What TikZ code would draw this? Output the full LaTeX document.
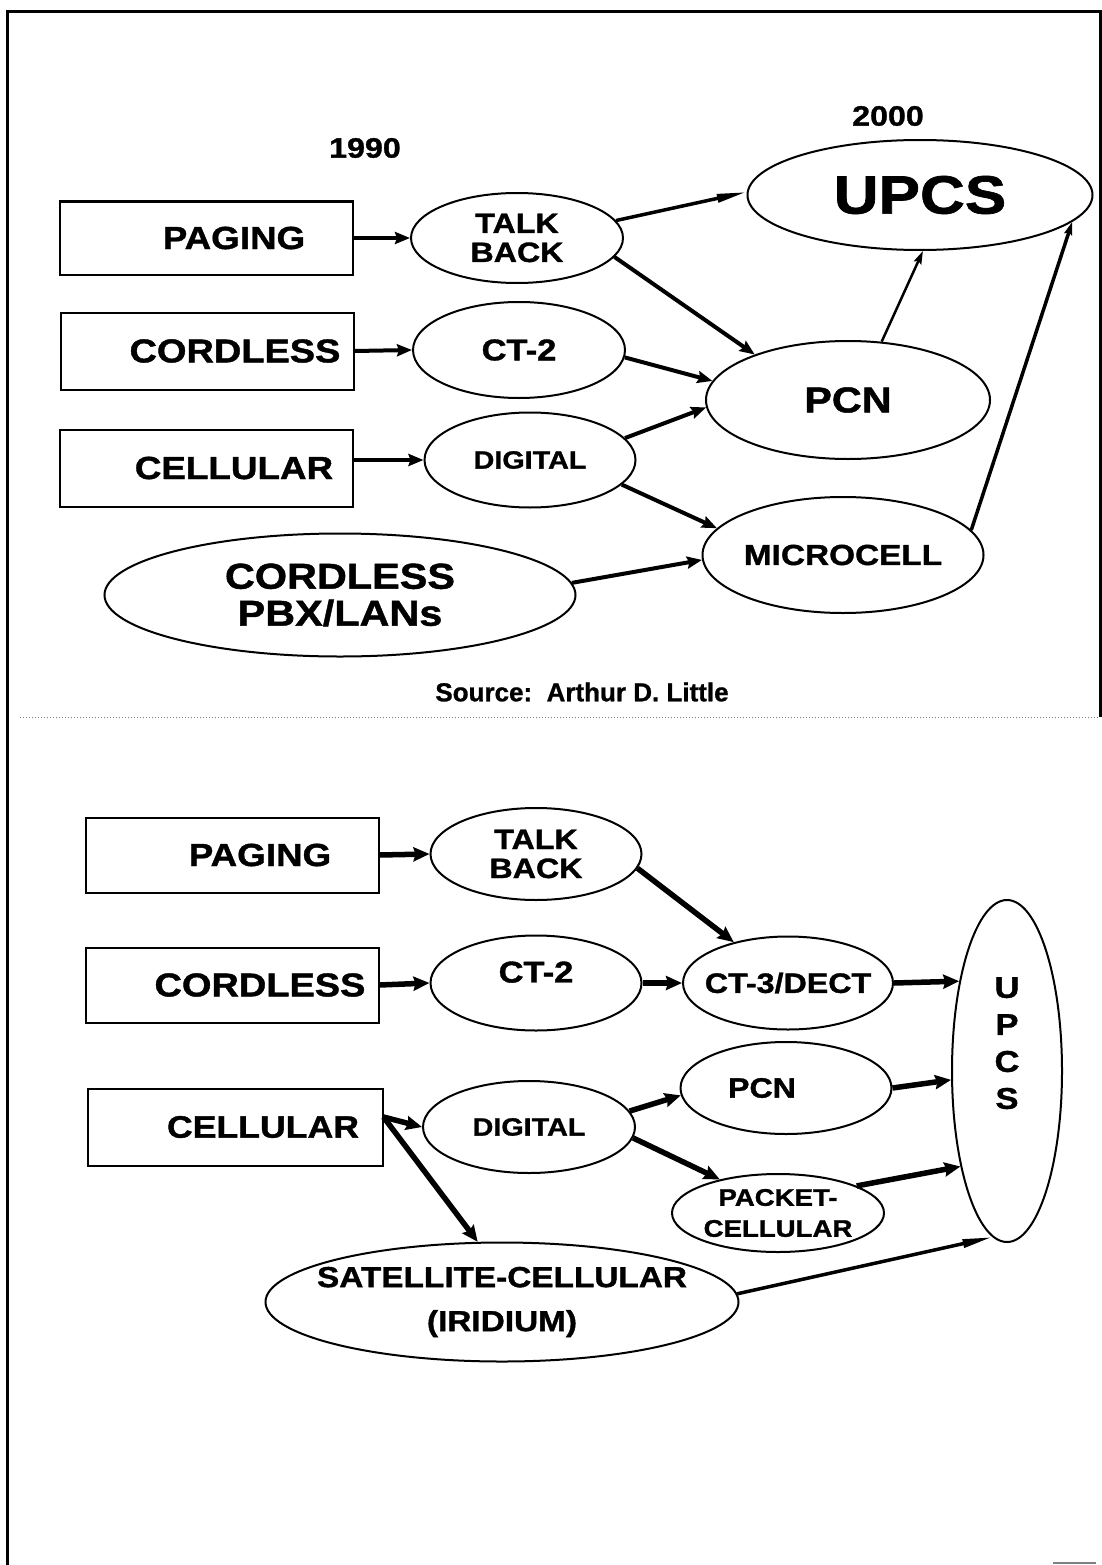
\documentclass[tikz,border=0pt]{standalone}
\usepackage{fontspec}
\setmainfont{Liberation Sans}[FakeStretch=1.15, BoldFeatures={FakeBold=1.2}]
\newfontfamily\srcfont{Liberation Sans}[BoldFeatures={FakeBold=1}]
\usetikzlibrary{shapes.geometric, arrows.meta}
\newcommand\fsz[2]{\bfseries\fontsize{#1}{#2}\selectfont}
\begin{document}
\begin{tikzpicture}[x=1pt, y=-1pt]
                \tikzset{
                    box/.style={rectangle, draw, line width=2pt, minimum width=293pt, minimum height=75pt, inner sep=0pt, execute at begin node={\hspace*{56pt}}},
                    oval/.style={ellipse, draw, line width=2pt, inner xsep=-45pt, inner ysep=-6pt, align=center},
                    year/.style={font=\fsz{28}{30}},
                    conn/.style={line width=4pt, -{Stealth[length=15pt, width=12pt, inset=2pt]}},
                    fatconn/.style={line width=5.5pt, -{Stealth[length=16pt, width=14pt, inset=2pt]}},
                    thinconn/.style={line width=2.5pt, -{Stealth[length=13pt, width=8pt, inset=2pt]}},
                    taper/.style={line width=3.5pt, -{Stealth[length=30pt, width=8pt, inset=0pt]}}
                }
                \useasboundingbox (0,0) rectangle (1102,1565);
                \draw[line width=3pt] (7,1565) -- (7,12) -- (1100,12) -- (1100,717);
                \draw[line width=1pt, gray, dotted] (20,717) -- (1100,717);
                \draw[line width=2pt, gray] (1053,1563) -- (1096,1563);
                % 1990 -> 2000
                \node[year] (y1990) at (365,148) {1990};
                \node[year] (y2000) at (888,116) {2000};
                \node[box, minimum height=73pt, font=\fsz{32}{36}] (paging1) at (206,238) {PAGING};
                \node[box, minimum height=77pt, font=\fsz{33}{36}] (cordless1) at (207,351) {CORDLESS};
                \node[box, minimum height=77pt, font=\fsz{32}{36}] (cellular1) at (206,468) {CELLULAR};
                \node[oval, minimum width=212pt, minimum height=90pt, font=\fsz{28}{29}] (talk1) at (517,238) {TALK\\BACK};
                \node[oval, minimum width=212pt, minimum height=96pt, font=\fsz{30}{34}] (ct2a) at (519,350) {CT-2};
                \node[oval, minimum width=211pt, minimum height=95pt, font=\fsz{25}{30}] (digital1) at (530,460) {DIGITAL};
                \node[oval, minimum width=345pt, minimum height=110pt, font=\fsz{54}{60}] (upcs1) at (920,195) {UPCS};
                \node[oval, minimum width=284pt, minimum height=118pt, font=\fsz{36}{40}] (pcn1) at (848,400) {PCN};
                \node[oval, minimum width=281pt, minimum height=116pt, font=\fsz{29}{32}] (micro1) at (843,555) {MICROCELL};
                \node[oval, minimum width=471pt, minimum height=123pt, font=\fsz{36}{37}] (pbx) at (340,595) {CORDLESS\\PBX/LANs};
                \node[font=\srcfont\bfseries\fontsize{26}{30}\selectfont] (source) at (582,692) {Source:\ \ Arthur D. Little};
                \draw[conn] (paging1.east) -- (talk1.west);
                \draw[conn] (cordless1.east) -- (ct2a.west);
                \draw[conn] (cellular1.east |- digital1.west) -- (digital1.west);
                \draw[taper] (talk1.10) -- (upcs1.179);
                \draw[conn] (talk1.349) -- (pcn1.154);
                \draw[thinconn] (pcn1.60) -- (upcs1.273);
                \draw[conn] (ct2a.356) -- (pcn1.172);
                \draw[conn] (digital1.13) -- (pcn1.183);
                \draw[conn] (digital1.345) -- (micro1.168);
                \draw[conn] (pbx.3) -- (micro1.182);
                \draw[thinconn, line width=3.5pt] (micro1.11) -- (upcs1.350);
                % second chart
                \node[box, font=\fsz{32}{36}] (paging2) at (232,855) {PAGING};
                \node[box, font=\fsz{33}{36}] (cordless2) at (232,985) {CORDLESS};
                \node[box, minimum width=295pt, minimum height=77pt, font=\fsz{31}{36}] (cellular2) at (235,1127) {CELLULAR};
                \node[oval, minimum width=211pt, minimum height=92pt, font=\fsz{28}{29}] (talk2) at (536,854) {TALK\\BACK};
                \node[oval, minimum width=211pt, minimum height=95pt, text depth=22pt, font=\fsz{30}{34}] (ct2b) at (536,983) {CT-2};
                \node[oval, minimum width=210pt, minimum height=93pt, font=\fsz{28}{32}] (ct3) at (788,983) {CT-3/DECT};
                \node[oval, minimum width=110pt, minimum height=342pt, text depth=56pt, font=\fsz{30}{37}] (upcs2) at (1007,1071) {U\\P\\C\\S};
                \node[oval, minimum width=211pt, minimum height=92pt, execute at end node={\hspace*{48pt}}, font=\fsz{28}{32}] (pcn2) at (786,1088) {PCN};
                \node[oval, minimum width=212pt, minimum height=92pt, font=\fsz{25}{30}] (digital2) at (529,1127) {DIGITAL};
                \node[oval, minimum width=212pt, minimum height=78pt, font=\fsz{24}{31}] (packet) at (778,1213) {PACKET-\\CELLULAR};
                \node[oval, minimum width=473pt, minimum height=119pt, font=\fsz{29}{44}] (sat) at (502,1302) {SATELLITE-CELLULAR\\(IRIDIUM)};
                \coordinate (cellout) at ([yshift=10pt]cellular2.east);
                \draw[fatconn] (paging2.east) -- (talk2.west);
                \draw[fatconn] (talk2.352) -- (ct3.143);
                \draw[fatconn] (cordless2.east) -- (ct2b.west);
                \draw[fatconn] (ct2b.east) -- (ct3.west);
                \draw[fatconn] (ct3.east) -- (upcs2.118);
                \draw[fatconn] (cellout) -- (digital2.west);
                \draw[fatconn] (cellout) -- (sat.112);
                \draw[fatconn] (digital2.9) -- (pcn2.184);
                \draw[fatconn] (digital2.354) -- (packet.150);
                \draw[fatconn] (pcn2.east) -- (upcs2.189);
                \draw[fatconn] (packet.19) -- (upcs2.244);
                \draw[taper] (sat.2) -- (upcs2.265);
            \end{tikzpicture}
\end{document}
